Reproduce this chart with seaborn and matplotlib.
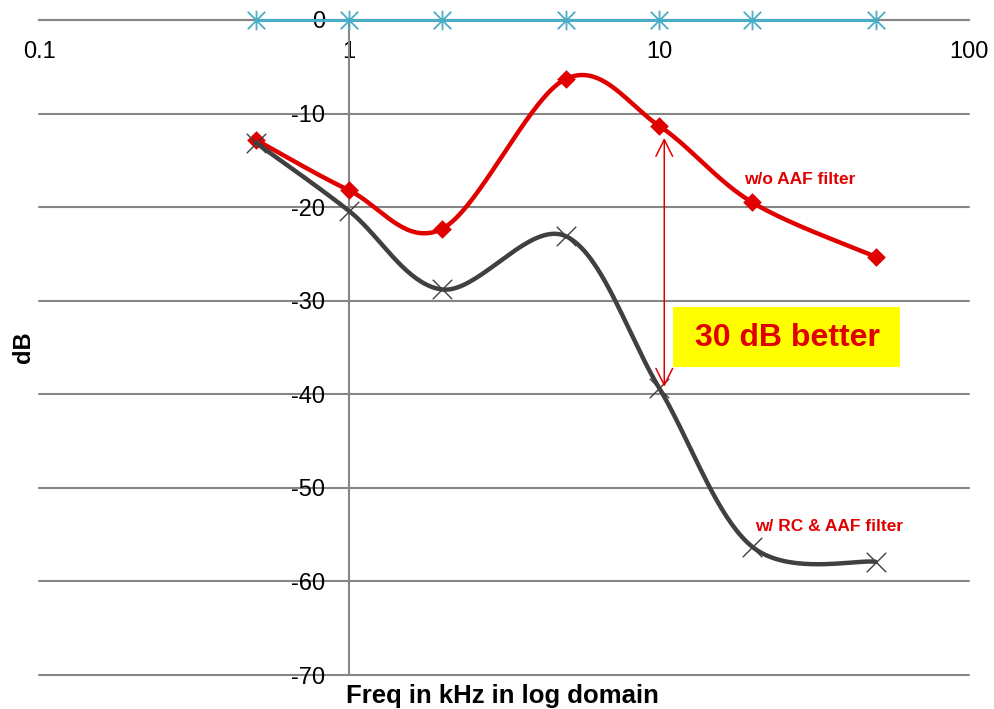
import numpy as np
import pandas as pd
import matplotlib
matplotlib.use("Agg")
import matplotlib.pyplot as plt
from matplotlib.patches import Rectangle
from matplotlib.path import Path
from matplotlib.ticker import NullLocator
import seaborn as sns

# ---- data ----
freq_khz = [0.5, 1, 2, 5, 10, 20, 50]
ref_db = [0, 0, 0, 0, 0, 0, 0]
no_aaf_db = [-12.8, -18.2, -22.3, -6.3, -11.3, -19.5, -25.3]
rc_aaf_db = [-13.1, -20.4, -28.8, -23.1, -39.3, -56.3, -57.9]
x_ticks = [0.1, 1, 10, 100]
x_tick_labels = ["0.1", "1", "10", "100"]
y_ticks = [0, -10, -20, -30, -40, -50, -60, -70]
y_tick_labels = ["0", "-10", "-20", "-30", "-40", "-50", "-60", "-70"]

RED = "#E00000"
DARK = "#404040"
CYAN = "#4BACC6"
GRID = "#868686"


def smooth(xs, ys, n=40):
    """Excel-like smoothed line (Catmull-Rom Bezier) in log-x / linear-y space."""
    P = np.column_stack([np.log10(xs), np.asarray(ys, float)])
    E = np.vstack([P[0], P, P[-1]])
    out = []
    t = np.linspace(0, 1, n)[:, None]
    for i in range(len(P) - 1):
        p0, p1, p2, p3 = E[i], E[i + 1], E[i + 2], E[i + 3]
        c1 = p1 + (p2 - p0) / 6
        c2 = p2 - (p3 - p1) / 6
        seg = (1 - t) ** 3 * p1 + 3 * (1 - t) ** 2 * t * c1 + 3 * (1 - t) * t ** 2 * c2 + t ** 3 * p2
        out.append(seg if i == 0 else seg[1:])
    pts = np.vstack(out)
    return pd.DataFrame({"x": 10 ** pts[:, 0], "y": pts[:, 1]})


# Excel-style star marker: vertical bar plus an X
star = Path([(0, -1), (0, 1), (-0.9, -0.9), (0.9, 0.9), (-0.9, 0.9), (0.9, -0.9)],
            [Path.MOVETO, Path.LINETO, Path.MOVETO, Path.LINETO, Path.MOVETO, Path.LINETO])

sns.set_style("white")
plt.rcParams["font.family"] = ["Liberation Sans", "DejaVu Sans"]
plt.rcParams["text.color"] = "black"
plt.rcParams["axes.labelcolor"] = "black"
plt.rcParams["xtick.color"] = "black"
plt.rcParams["ytick.color"] = "black"

fig = plt.figure(figsize=(9.94, 7.09), dpi=100)
ax = fig.add_axes([39 / 994, 1 - 675 / 709, 930 / 994, 655 / 709])

# red series
s_red = smooth(freq_khz, no_aaf_db)
sns.lineplot(data=s_red, x="x", y="y", sort=False, estimator=None, color=RED, lw=3.2, ax=ax, zorder=3)
sns.scatterplot(x=freq_khz, y=no_aaf_db, marker="D", s=9.5 ** 2, color=RED, edgecolor=RED, linewidth=0, ax=ax, zorder=4)

# dark series
s_dark = smooth(freq_khz, rc_aaf_db)
sns.lineplot(data=s_dark, x="x", y="y", sort=False, estimator=None, color=DARK, lw=3.2, ax=ax, zorder=5)
sns.scatterplot(x=freq_khz, y=rc_aaf_db, marker="x", s=14 ** 2, color=DARK, linewidth=1.0, ax=ax, zorder=6)

# cyan reference
sns.lineplot(x=freq_khz, y=ref_db, color=CYAN, lw=2.2, marker=star, markersize=14,
             markeredgewidth=1.3, markeredgecolor=CYAN, markerfacecolor="none",
             ax=ax, zorder=7, clip_on=False)

ax.set_xscale("log")
ax.set_xlim(0.1, 100)
ax.set_ylim(-70, 0)
ax.set_xticks(x_ticks, x_tick_labels)
ax.xaxis.set_minor_locator(NullLocator())
ax.set_yticks(y_ticks, y_tick_labels)

for side in ["top", "right"]:
    ax.spines[side].set_visible(False)
ax.spines["bottom"].set_position(("data", 0))
ax.spines["left"].set_position(("data", 1))
for side in ["bottom", "left"]:
    ax.spines[side].set_color(GRID)
    ax.spines[side].set_linewidth(1.5)
    ax.spines[side].set_zorder(1)

ax.tick_params(axis="x", direction="out", length=5, width=1.5, color=GRID, labelcolor="black",
               labelsize=17, pad=10)
ax.tick_params(axis="y", direction="out", length=5, width=1.5, color=GRID, labelcolor="black",
               labelsize=17, pad=12)
ax.yaxis.grid(True, color=GRID, lw=1.5, zorder=0)
ax.xaxis.grid(False)
ax.set_axisbelow(True)
for gl in ax.yaxis.get_gridlines():
    gl.set_clip_on(False)

ax.set_xlabel("Freq in kHz in log domain", fontsize=18.5, fontweight="bold", color="black")
ax.xaxis.set_label_coords(0.498, -0.014)
ax.set_ylabel("dB", fontsize=17, fontweight="bold", color="black")
ax.yaxis.set_label_coords(-0.004, 0.5)

# annotations
ax.annotate("", xy=(10.4, -12.6), xytext=(10.4, -39.2),
            arrowprops=dict(arrowstyle="<->", color=RED, lw=1.1, mutation_scale=30,
                            shrinkA=0, shrinkB=0), zorder=8)
ax.text(28.5, -17.0, "w/o AAF filter", color=RED, fontsize=12.5, fontweight="bold",
        ha="center", va="center", zorder=8)
ax.text(35.3, -54.1, "w/ RC & AAF filter", color=RED, fontsize=12.5, fontweight="bold",
        ha="center", va="center", zorder=8)
ax.add_patch(Rectangle(((673 - 39) / 930, (675 - 367) / 655), 227 / 930, 60 / 655,
                       transform=ax.transAxes, facecolor="#FFFF00", edgecolor="none", zorder=8))
ax.text(25.9, -34.0, "30 dB better", color=RED, fontsize=23, fontweight="bold",
        ha="center", va="center", zorder=9)

fig.savefig("out.png", dpi=100)
